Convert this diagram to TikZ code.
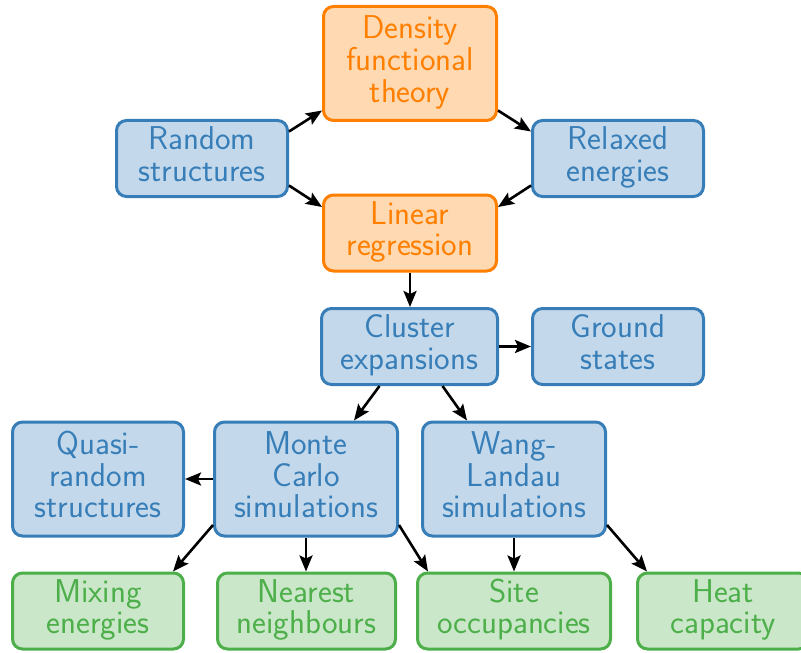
\documentclass[tikz,border=0pt]{standalone}
\usetikzlibrary{arrows.meta,calc}
\definecolor{cblue}{RGB}{55,126,184}
\definecolor{corange}{RGB}{255,127,0}
\definecolor{cgreen}{RGB}{77,175,74}
\tikzset{
  box/.style={draw=#1, fill=#1!30, text=#1, line width=1.5pt, rounded corners=5pt,
    align=center, inner sep=0pt, minimum height=38pt,
    text height=27.4pt, text depth=4.5pt,
    font=\sffamily\fontsize{16.5}{15.9}\selectfont},
  threeline/.style={minimum height=57pt, text height=43.3pt},
  bbox/.style={box=cblue},
  obox/.style={box=corange},
  gbox/.style={box=cgreen},
  flow/.style={line width=1.3pt, -{Stealth[length=8pt,width=6.5pt,inset=1.5pt]}}
}
\begin{document}
\begin{tikzpicture}[x=0.5pt,y=-0.5pt]
\useasboundingbox (0,0) rectangle (801,652);
\clip (0,0) rectangle (801,652);

% top cycle
\node[obox, threeline, minimum width=86.5pt] (dft) at (410,63.5) {Density\\functional\\theory};
\node[bbox, minimum width=85.5pt] (rand) at (202,158.5) {Random\\structures};
\node[bbox, minimum width=85.5pt] (relax) at (618,158.5) {Relaxed\\energies};
\node[obox, minimum width=86.5pt] (lin) at (410,233) {Linear\\regression};

% cluster expansion row
\node[bbox, minimum width=88pt] (ce) at (409.5,346.5) {Cluster\\expansions};
\node[bbox, minimum width=85.5pt] (gs) at (618,346.5) {Ground\\states};

% simulation row
\node[bbox, threeline, minimum width=85.5pt] (sqs) at (98,479) {Quasi-\\random\\structures};
\node[bbox, threeline, minimum width=91.5pt] (mc) at (306,479) {Monte\\Carlo\\simulations};
\node[bbox, threeline, minimum width=91.5pt] (wl) at (514,479) {Wang-\\Landau\\simulations};

% results row
\node[gbox, minimum width=85.5pt] (mix) at (98,611) {Mixing\\energies};
\node[gbox, minimum width=89pt] (nn) at (306.5,611) {Nearest\\neighbours};
\node[gbox, minimum width=96.5pt] (occ) at (514,611) {Site\\occupancies};
\node[gbox, minimum width=85.5pt] (cv) at (723,611) {Heat\\capacity};

% connectors
\draw[flow] ($(rand.east)+(0,-27)$) -- ($(dft.west)+(0,47)$);
\draw[flow] ($(rand.east)+(0,27)$) -- ($(lin.west)+(0,-26)$);
\draw[flow] ($(dft.east)+(0,47)$) -- ($(relax.west)+(0,-27)$);
\draw[flow] ($(relax.west)+(0,27)$) -- ($(lin.east)+(0,-26)$);
\draw[flow] (lin.south) -- (ce.north -| lin.south);
\draw[flow] (ce.east) -- (gs.west);
\draw[flow] ($(ce.south)+(-30,0)$) -- ($(mc.north)+(48,0)$);
\draw[flow] ($(ce.south)+(33,0)$) -- ($(wl.north)+(-47,0)$);
\draw[flow] (mc.west) -- (sqs.east);
\draw[flow] ($(mc.west)+(0,46)$) -- ($(mix.north)+(75,0)$);
\draw[flow] (mc.south) -- (nn.north -| mc.south);
\draw[flow] ($(mc.east)+(0,46)$) -- ($(occ.north)+(-86,0)$);
\draw[flow] (wl.south) -- (occ.north);
\draw[flow] ($(wl.east)+(0,46)$) -- ($(cv.north)+(-76,0)$);
\end{tikzpicture}
\end{document}
